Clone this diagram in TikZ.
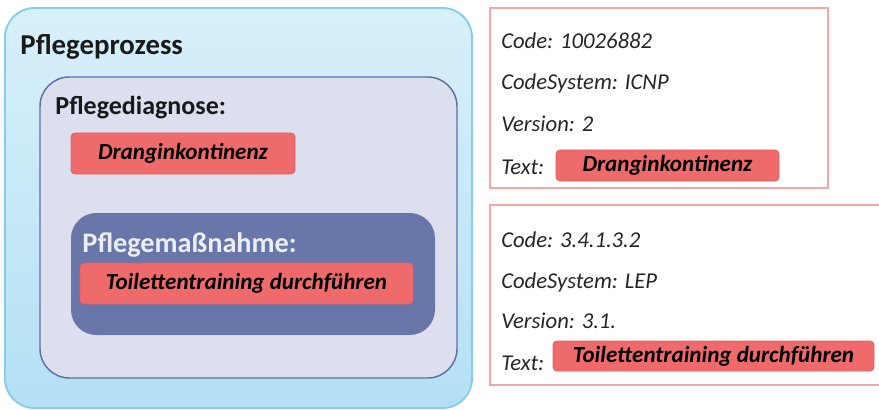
\documentclass[tikz,border=0pt]{standalone}
\usepackage{fontspec}
\setmainfont{Carlito}
\definecolor{procTop}{HTML}{D8F0FA}
\definecolor{procBot}{HTML}{B4E0F4}
\definecolor{procLine}{HTML}{86CDEC}
\definecolor{diagFill}{HTML}{DCDFEE}
\definecolor{diagLine}{HTML}{5F6FA8}
\definecolor{measFill}{HTML}{6976A9}
\definecolor{tagFill}{HTML}{EF6B6B}
\definecolor{tagLine}{HTML}{E45F5F}
\definecolor{codeLine}{HTML}{F2A7A7}
\definecolor{measText}{HTML}{ECEEF5}
\tikzset{
  tag/.style={draw=tagLine, fill=tagFill, line width=0.6pt, rounded corners=3pt,
    inner sep=0pt, font=\fontsize{17.3}{17.3}\selectfont\bfseries\itshape, text=black},
  codetext/.style={anchor=base west, inner sep=0pt,
    font=\fontsize{17}{17}\selectfont\itshape, text=black!85},
  heading/.style={anchor=base west, inner sep=0pt, font=\bfseries, text=black!90},
}
\begin{document}
\begin{tikzpicture}[x=0.75pt, y=-0.75pt]
\useasboundingbox (0,0) rectangle (879,410);
\clip (0,0) rectangle (879,410);

% nursing process frame
\node (proc) [draw=procLine, line width=1.4pt, rounded corners=22pt,
  top color=procTop, bottom color=procBot, inner sep=0pt,
  minimum width=350.25pt, minimum height=300pt] at (238.5,208) {};
\node (procT) [heading, font=\fontsize{21.6}{21.6}\selectfont\bfseries] at (20,55) {Pflegeprozess};

% nursing diagnosis
\node (diag) [draw=diagLine, fill=diagFill, line width=1.1pt, rounded corners=22pt,
  inner sep=0pt, minimum width=312.75pt, minimum height=225.75pt] at (248.5,227.5) {};
\node (diagT) [heading, font=\fontsize{19.5}{19.5}\selectfont\bfseries] at (55,115) {Pflegediagnose:};
\node (diagTag) [tag, minimum width=168pt, minimum height=30.75pt] at (183,153.5) {Dranginkontinenz};

% nursing measure
\node (meas) [fill=measFill, rounded corners=19pt, inner sep=0pt,
  minimum width=273pt, minimum height=91.5pt] at (253,274) {};
\node (measT) [heading, text=measText, font=\fontsize{21.2}{21.2}\selectfont\bfseries] at (82,252) {Pflegemaßnahme:};
\node (measTag) [tag, minimum width=249.75pt, minimum height=30.75pt] at (246.5,283.5) {Toilettentraining durchführen};

% ICNP code panel
\node (icnp) [draw=codeLine, fill=white, line width=1.1pt, inner sep=0pt,
  minimum width=253.5pt, minimum height=135pt] at (659,98) {};
\node (icnp1) [codetext] at (501,49) {Code: 10026882};
\node (icnp2) [codetext] at (501,90) {CodeSystem: ICNP};
\node (icnp3) [codetext] at (501,132) {Version: 2};
\node (icnp4) [codetext] at (501,175) {Text:};
\node (icnpTag) [tag, minimum width=167.25pt, minimum height=23.25pt] at (667.5,165.5) {Dranginkontinenz};

% LEP code panel (runs past the right edge)
\coordinate (lepNE) at (900,205);
\coordinate (lepNW) at (490,205);
\coordinate (lepSW) at (490,385);
\coordinate (lepSE) at (900,385);
\draw[codeLine, line width=1.1pt, fill=white] (lepNE) -- (lepNW) -- (lepSW) -- (lepSE);
\node (lep1) [codetext] at (501,247) {Code: 3.4.1.3.2};
\node (lep2) [codetext] at (501,288) {CodeSystem: LEP};
\node (lep3) [codetext] at (501,328) {Version: 3.1.};
\node (lep4) [codetext] at (501,370) {Text:};
\node (lepTag) [tag, minimum width=240.75pt, minimum height=22.5pt] at (713.5,356) {Toilettentraining durchführen};
\end{tikzpicture}
\end{document}
